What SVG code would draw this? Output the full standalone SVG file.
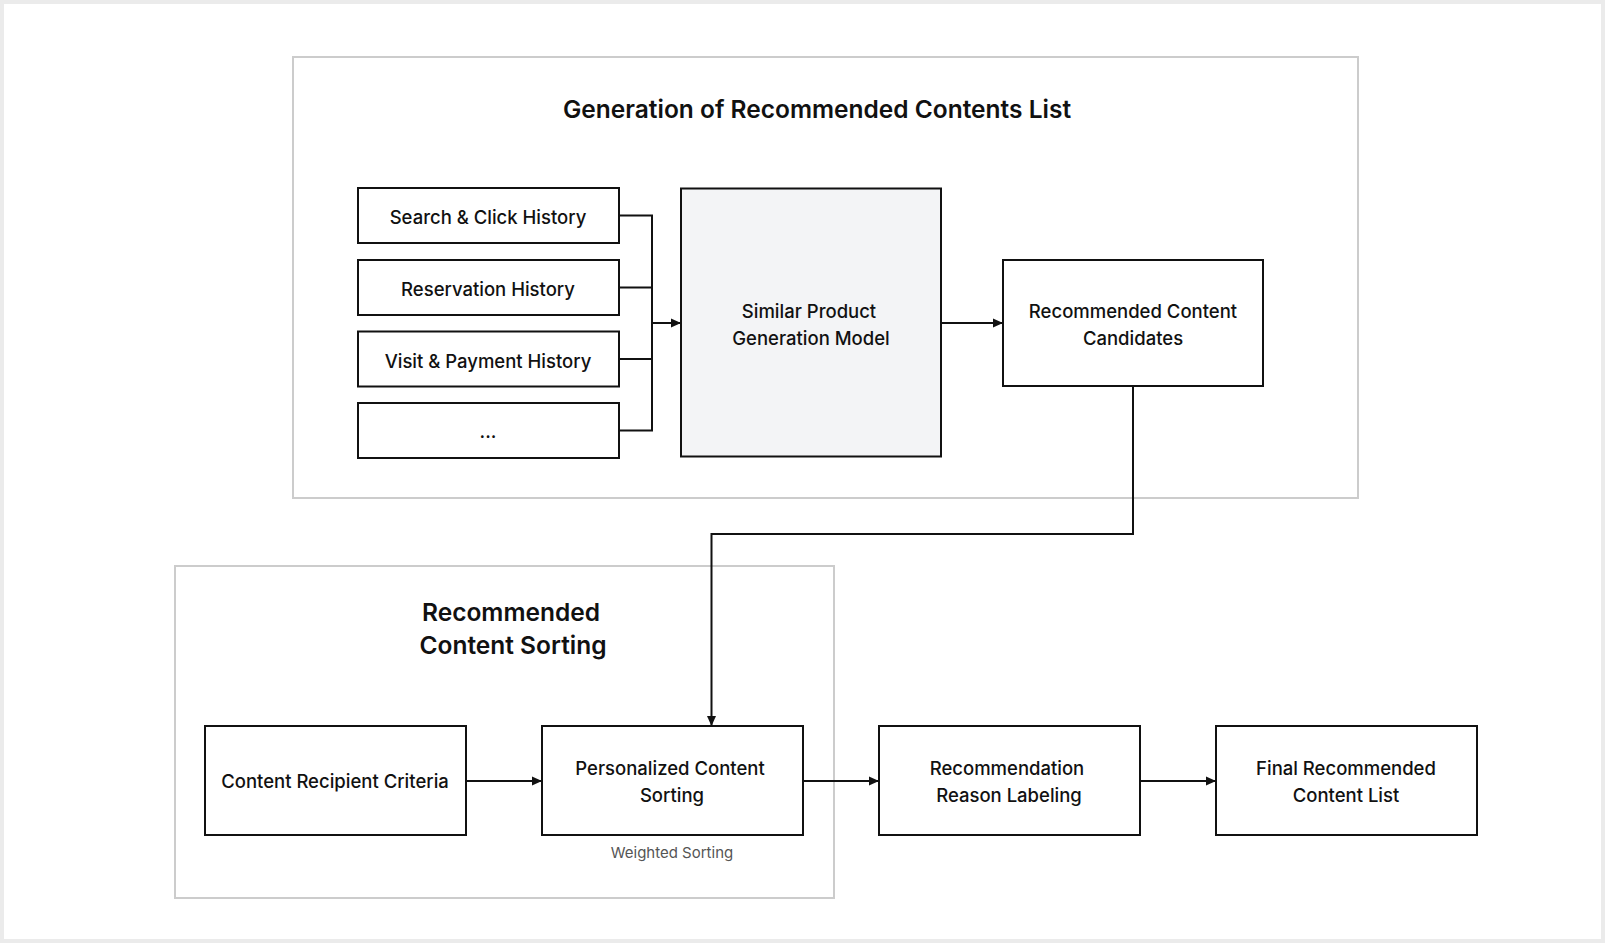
<svg xmlns="http://www.w3.org/2000/svg" width="1605" height="943" viewBox="0 0 1605 943">
<style>
.bg{fill:#ffffff;stroke:#ebebeb;stroke-width:4}
.cont{fill:none;stroke:#cccccc;stroke-width:2}
.box{fill:#ffffff;stroke:#111111;stroke-width:2}
.model{fill:#f3f4f6;stroke:#111111;stroke-width:2}
.t{font-family:Inter,"Noto Sans","Liberation Sans",sans-serif;font-size:18.5px;font-weight:500;fill:#111111;text-anchor:middle}
.h{font-family:Inter,"Noto Sans","Liberation Sans",sans-serif;font-size:24.5px;font-weight:600;fill:#111111;text-anchor:middle}
.s{font-family:Inter,"Noto Sans","Liberation Sans",sans-serif;font-size:15px;fill:#555555;text-anchor:middle}
.c{fill:none;stroke:#111111;stroke-width:2}
</style>
<defs>
<marker id="arr" markerWidth="10" markerHeight="10" refX="9" refY="5" orient="auto" markerUnits="userSpaceOnUse">
<path d="M0,0.5 L10,5 L0,9.5 Z" fill="#111111"/>
</marker>
</defs>
<rect class="bg" x="2" y="2" width="1601" height="939"/>
<g id="group-generation">
<rect class="cont" x="293" y="57" width="1065" height="441"/>
<text class="h" x="817" y="118">Generation of Recommended Contents List</text>
</g>
<g id="group-sorting">
<rect class="cont" x="175" y="566" width="659" height="332"/>
<text class="h" x="511" y="621">Recommended</text>
<text class="h" x="513" y="654">Content Sorting</text>
</g>
<g id="n-search">
<rect class="box" x="358" y="188" width="261" height="55"/>
<text class="t" x="488" y="224">Search &amp; Click History</text>
</g>
<g id="n-reservation">
<rect class="box" x="358" y="260" width="261" height="55"/>
<text class="t" x="488" y="296">Reservation History</text>
</g>
<g id="n-visit">
<rect class="box" x="358" y="331.5" width="261" height="55"/>
<text class="t" x="488" y="367.5">Visit &amp; Payment History</text>
</g>
<g id="n-etc">
<rect class="box" x="358" y="403" width="261" height="55"/>
<text class="t" x="488" y="438">...</text>
</g>
<g id="n-model">
<rect class="model" x="681" y="188.5" width="260" height="268"/>
<text class="t" x="809" y="317.5">Similar Product</text>
<text class="t" x="811" y="344.5">Generation Model</text>
</g>
<g id="n-candidates">
<rect class="box" x="1003" y="260" width="260" height="126"/>
<text class="t" x="1133" y="317.5">Recommended Content</text>
<text class="t" x="1133" y="344.5">Candidates</text>
</g>
<g id="n-recipient">
<rect class="box" x="205" y="726" width="261" height="109"/>
<text class="t" x="335" y="788">Content Recipient Criteria</text>
</g>
<g id="n-personalized">
<rect class="box" x="542" y="726" width="261" height="109"/>
<text class="t" x="670" y="775">Personalized Content</text>
<text class="t" x="672" y="802">Sorting</text>
<text class="s" x="672" y="858">Weighted Sorting</text>
</g>
<g id="n-reason">
<rect class="box" x="879" y="726" width="261" height="109"/>
<text class="t" x="1007" y="775">Recommendation</text>
<text class="t" x="1009" y="802">Reason Labeling</text>
</g>
<g id="n-final">
<rect class="box" x="1216" y="726" width="261" height="109"/>
<text class="t" x="1346" y="775">Final Recommended</text>
<text class="t" x="1346" y="802">Content List</text>
</g>
<g id="connectors">
<path class="c" d="M619,215.5 H652 V430.5 H619"/>
<path class="c" d="M619,287.5 H652"/>
<path class="c" d="M619,359 H652"/>
<path class="c" d="M652,323 H680" marker-end="url(#arr)"/>
<path class="c" d="M941,323 H1002" marker-end="url(#arr)"/>
<path class="c" d="M1133,386 V534 H711.5 V725" marker-end="url(#arr)"/>
<path class="c" d="M466,781 H541" marker-end="url(#arr)"/>
<path class="c" d="M803,781 H878" marker-end="url(#arr)"/>
<path class="c" d="M1140,781 H1215" marker-end="url(#arr)"/>
</g>
</svg>
